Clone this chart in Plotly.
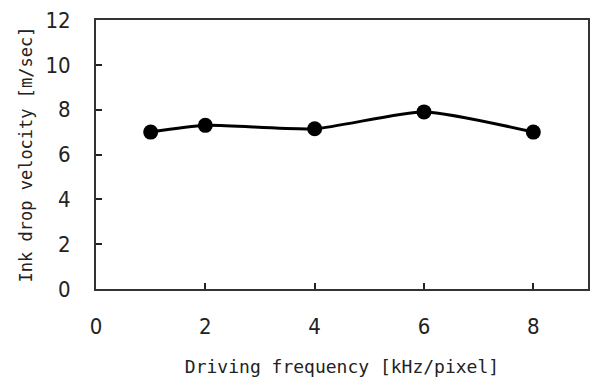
import plotly.graph_objects as go

freq = [1, 2, 4, 6, 8]
velocity = [7.0, 7.3, 7.15, 7.9, 7.0]
x_ticks = [0, 2, 4, 6, 8]
y_ticks = [0, 2, 4, 6, 8, 10, 12]

fig = go.Figure()
fig.add_trace(go.Scatter(
    x=freq, y=velocity, mode="lines+markers",
    line=dict(color="black", width=3, shape="spline", smoothing=0.6),
    marker=dict(symbol="circle", size=15, color="black"),
    showlegend=False,
))

tick_font = dict(family="Liberation Sans Narrow, DejaVu Sans Condensed, sans-serif", size=22, color="#222")
title_font_family = "DejaVu Sans Mono, Liberation Mono, monospace"
fig.update_layout(
    width=590, height=383,
    margin=dict(l=96, r=2, t=20, b=94),
    paper_bgcolor="white", plot_bgcolor="white",
    font=dict(family=title_font_family, color="#222", size=16),
    xaxis=dict(
        range=[0, 9], tickvals=x_ticks, ticks="inside", ticklen=6, tickwidth=2,
        tickcolor="#222", showline=True, linecolor="#333", linewidth=2, mirror=True,
        showgrid=False, zeroline=False, ticklabelstandoff=17, automargin=False,
        tickfont=tick_font,
        title=dict(text="Driving frequency [kHz/pixel]",
                   font=dict(family=title_font_family, size=18), standoff=22),
    ),
    yaxis=dict(
        range=[0, 12], tickvals=y_ticks, ticks="inside", ticklen=6, tickwidth=2,
        tickcolor="#222", showline=True, linecolor="#333", linewidth=2, mirror=True,
        showgrid=False, zeroline=False, ticklabelstandoff=19, automargin=False,
        tickfont=tick_font,
        title=dict(text="Ink drop velocity [m/sec]",
                   font=dict(family=title_font_family, size=17), standoff=8),
    ),
)
fig.write_html("out.html", config={"displayModeBar": False},
               post_script="document.body.style.margin='0';")
